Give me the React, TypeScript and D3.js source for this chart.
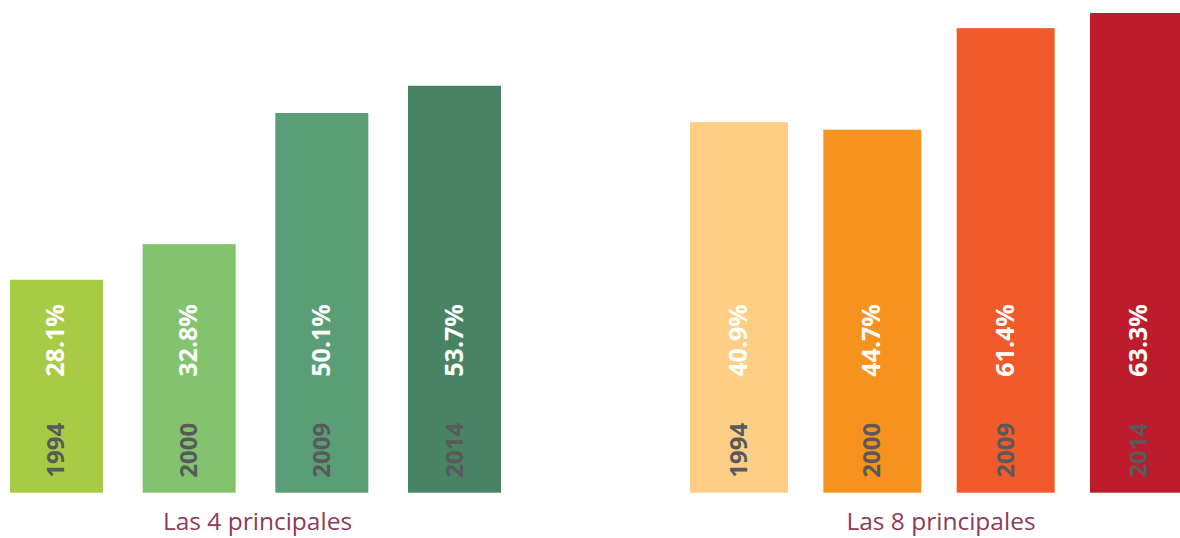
import * as d3 from "d3";
import React, { useEffect, useRef } from "react";

const years = ["1994", "2000", "2009", "2014"];

// Las 4 principales
const labels4 = [28.1, 32.8, 50.1, 53.7];
const bars4 = [28.1, 32.8, 50.1, 53.7];
const colors4 = ["#a8cb45", "#84c36e", "#5a9e78", "#488464"];

// Las 8 principales (first two bars are drawn shorter than their labels in the original)
const labels8 = [40.9, 44.7, 61.4, 63.3];
const bars8 = [48.9, 47.9, 61.3, 63.3];
const colors8 = ["#fece85", "#f6921e", "#f15a2b", "#bd1c2d"];

const captions = ["Las 4 principales", "Las 8 principales"];

const width = 1180;
const height = 538;

const App: React.FC = () => {
  const ref = useRef<SVGSVGElement | null>(null);

  useEffect(() => {
    document.body.style.margin = "0";
    if (!ref.current) return;
    const svg = d3.select(ref.current);
    svg.selectAll("*").remove();

    const baseline = 492.7;
    const y = d3.scaleLinear().domain([0, 63.3]).range([baseline, 13]);

    const groups = [
      { bars: bars4, labels: labels4, colors: colors4, range: [10, 501] as [number, number], pad: 0.299, caption: captions[0] },
      { bars: bars8, labels: labels8, colors: colors8, range: [690, 1188] as [number, number], pad: 0.265, caption: captions[1] },
    ];

    const font = "'Open Sans', 'Noto Sans', sans-serif";

    groups.forEach((g) => {
      const x = d3.scaleBand<string>().domain(years).range(g.range).paddingInner(g.pad).paddingOuter(0);
      const grp = svg.append("g");

      grp
        .selectAll("rect")
        .data(years)
        .join("rect")
        .attr("x", (d) => x(d)!)
        .attr("width", x.bandwidth())
        .attr("y", (_, i) => y(g.bars[i]))
        .attr("height", (_, i) => baseline - y(g.bars[i]))
        .attr("fill", (_, i) => g.colors[i]);

      // year labels, rotated
      grp
        .selectAll("text.year")
        .data(years)
        .join("text")
        .attr("class", "year")
        .attr("transform", (d) => `translate(${x(d)! + x.bandwidth() / 2 + 8},${baseline - 15}) rotate(-90)`)
        .attr("font-family", font)
        .attr("font-weight", 700)
        .attr("font-size", 24)
        .attr("fill", "#58595b")
        .text((d) => d);

      // value labels
      grp
        .selectAll("text.val")
        .data(years)
        .join("text")
        .attr("class", "val")
        .attr("transform", (d) => `translate(${x(d)! + x.bandwidth() / 2 + 8},${baseline - 116}) rotate(-90)`)
        .attr("font-family", font)
        .attr("font-weight", 700)
        .attr("font-size", 25)
        .attr("fill", "#ffffff")
        .text((_, i) => `${g.labels[i].toFixed(1)}%`);

      svg
        .append("text")
        .attr("x", (g.range[0] + g.range[1]) / 2 + 2)
        .attr("y", 530)
        .attr("text-anchor", "middle")
        .attr("font-family", font)
        .attr("font-size", 24.5)
        .attr("fill", "#8e3a59")
        .text(g.caption);
    });
  }, []);

  return <svg ref={ref} width={width} height={height} style={{ display: "block" }}></svg>;
};

export default App;
